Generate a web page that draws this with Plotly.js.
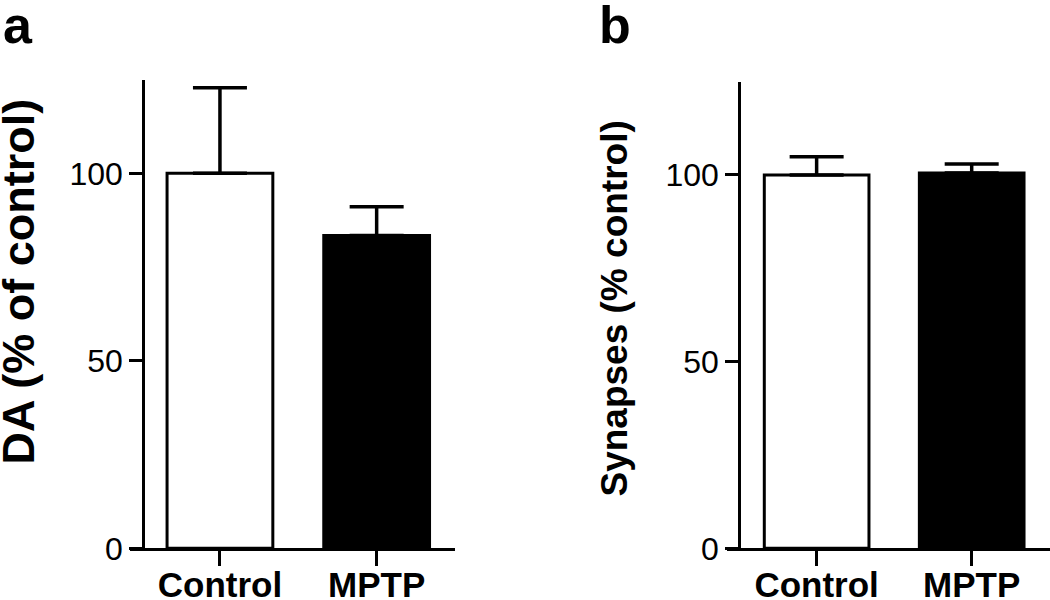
<!DOCTYPE html>
<html>
<head>
<meta charset="utf-8">
<script src="https://cdn.plot.ly/plotly-3.0.1.min.js"></script>
<style>
  html, body { margin: 0; padding: 0; background: #fff; }
  #chart { width: 1050px; height: 600px; }
</style>
</head>
<body>
<div id="chart"></div>
<script>
// ---- data ----
const categories = ['Control', 'MPTP'];
const daValues = [100, 83.4];
const daErrors = [22.8, 7.7];
const synValues = [100, 100.5];
const synErrors = [4.9, 2.4];
const yTickValues = [0, 50, 100];
const yTickLabels = ['0', '50', '100'];
const panelLabels = ['a', 'b'];
const yTitles = ['DA (% of control)', 'Synapses (% control)'];

// ---- styling ----
const FONT = 'Liberation Sans, Arial, Helvetica, sans-serif';
const W = 1050, H = 600;
const barColors = ['#ffffff', '#000000'];

function barTrace(values, errors, xa, ya) {
  return {
    type: 'bar',
    x: categories,
    y: values,
    xaxis: xa,
    yaxis: ya,
    width: 0.675,
    marker: { color: barColors, line: { color: '#000', width: 3 } },
    error_y: {
      type: 'data',
      symmetric: false,
      array: errors,
      arrayminus: errors.map(() => 0),
      color: '#000',
      thickness: 3.5,
      width: 27
    },
    hoverinfo: 'skip',
    cliponaxis: false
  };
}

const data = [
  barTrace(daValues, daErrors, 'x', 'y'),
  barTrace(synValues, synErrors, 'x2', 'y2')
];

function xAxis(domain, range, anchor) {
  return {
    domain: domain,
    range: range,
    type: 'category',
    anchor: anchor,
    showline: true,
    linecolor: '#000',
    linewidth: 3,
    ticks: 'outside',
    ticklen: 15,
    tickwidth: 3,
    tickcolor: '#000',
    ticklabelstandoff: -11,
    tickfont: { family: FONT, size: 35, color: '#000', weight: 700 },
    showgrid: false,
    zeroline: false,
    fixedrange: true
  };
}

function yAxis(domain, posPx) {
  return {
    domain: domain,
    range: [0, 125],
    anchor: 'free',
    position: posPx / W,
    showline: true,
    linecolor: '#000',
    linewidth: 3,
    ticks: 'outside',
    ticklen: 13,
    tickwidth: 3,
    tickcolor: '#000',
    tickmode: 'array',
    tickvals: yTickValues,
    ticktext: yTickLabels,
    tickfont: { family: FONT, size: 32, color: '#000' },
    showgrid: false,
    zeroline: false,
    fixedrange: true
  };
}

const layout = {
  width: W,
  height: H,
  margin: { l: 0, r: 0, t: 0, b: 0, pad: 0 },
  paper_bgcolor: '#fff',
  plot_bgcolor: 'rgba(0,0,0,0)',
  showlegend: false,
  xaxis: xAxis([130 / W, 455 / W], [-0.574, 1.5], 'y'),
  yaxis: yAxis([(H - 548.3) / H, (H - 79.6) / H], 143.3),
  xaxis2: xAxis([726.7 / W, 1.0], [-0.58, 1.505], 'y2'),
  yaxis2: yAxis([(H - 548.3) / H, (H - 81.6) / H], 739.3),
  annotations: [
    {
      text: panelLabels[0], xref: 'paper', yref: 'paper',
      x: 1 / W, y: 1.01, xanchor: 'left', yanchor: 'top', showarrow: false,
      font: { family: FONT, size: 52, color: '#000', weight: 700 }
    },
    {
      text: panelLabels[1], xref: 'paper', yref: 'paper',
      x: 597 / W, y: 1.01, xanchor: 'left', yanchor: 'top', showarrow: false,
      font: { family: FONT, size: 52, color: '#000', weight: 700 }
    },
    {
      text: yTitles[0], xref: 'paper', yref: 'paper',
      x: 18 / W, y: (H - 281.5) / H, xanchor: 'center', yanchor: 'middle',
      textangle: -90, showarrow: false,
      font: { family: FONT, size: 45, color: '#000', weight: 700 }
    },
    {
      text: yTitles[1], xref: 'paper', yref: 'paper',
      x: 614 / W, y: (H - 308.5) / H, xanchor: 'center', yanchor: 'middle',
      textangle: -90, showarrow: false,
      font: { family: FONT, size: 37, color: '#000', weight: 700 }
    }
  ]
};

Plotly.newPlot('chart', data, layout, { staticPlot: true, displayModeBar: false });
</script>
</body>
</html>
